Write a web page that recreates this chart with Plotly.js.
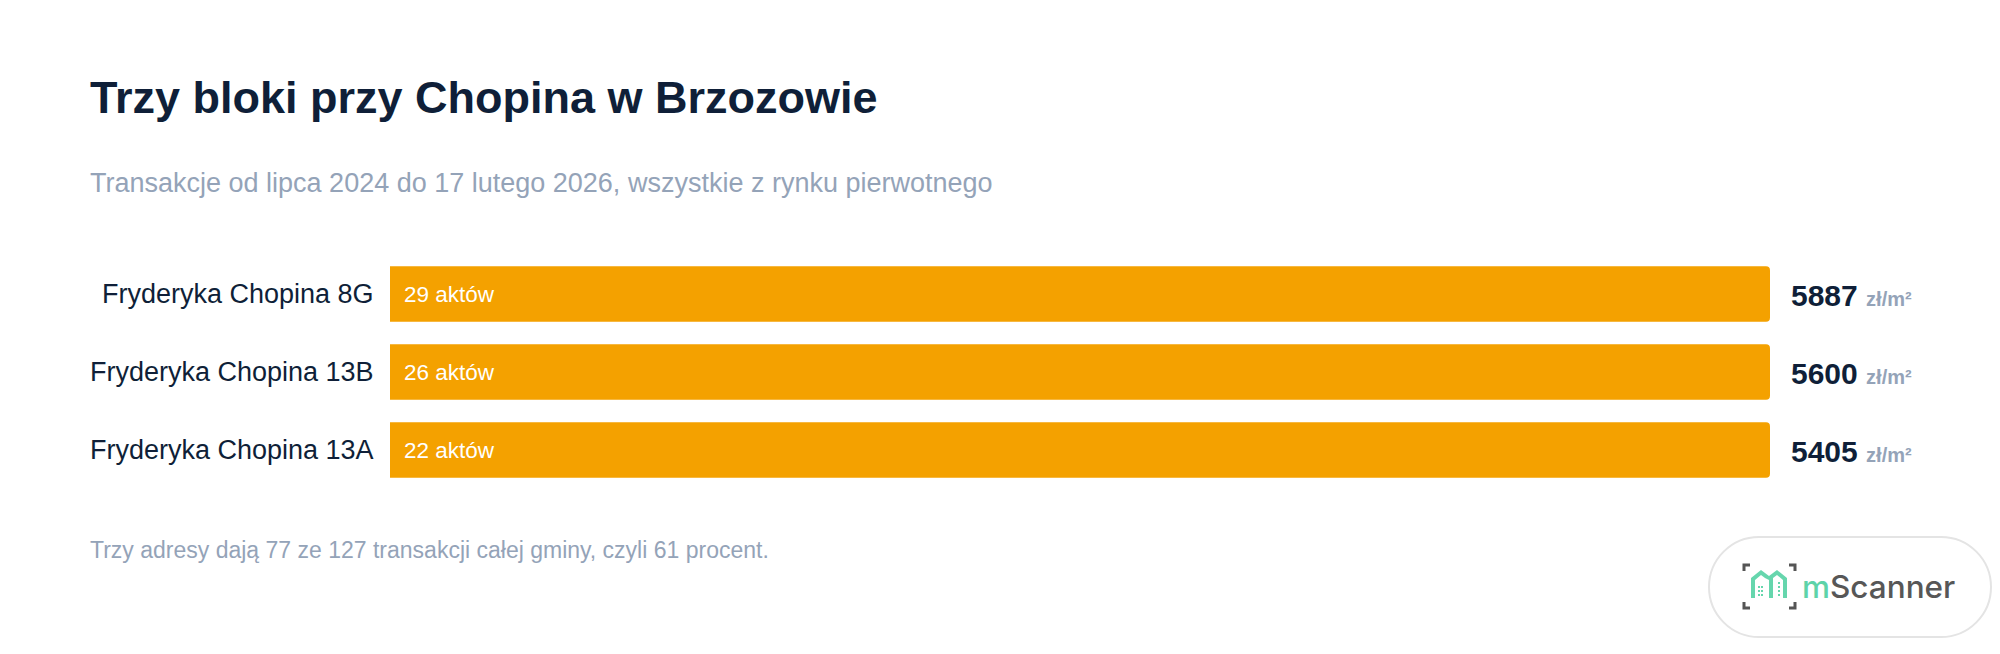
<!DOCTYPE html>
<html>
<head>
<meta charset="utf-8">
<script src="https://cdn.plot.ly/plotly-3.0.1.min.js"></script>
<style>
  html, body { margin: 0; padding: 0; background: #ffffff; }
  #chart { width: 2000px; height: 654px; }
</style>
</head>
<body>
<div id="chart"></div>
<script>
// ---- data ----
var addresses = ["Fryderyka Chopina 8G", "Fryderyka Chopina 13B", "Fryderyka Chopina 13A"];
var actCounts = [29, 26, 22];
var pricePerM2 = [5887, 5600, 5405];
// every bar in the reference is drawn at the same full length
var barLength = [1, 1, 1];
var actWord = "aktów";
var priceUnit = "zł/m²";

var titleText = "Trzy bloki przy Chopina w Brzozowie";
var subtitleText = "Transakcje od lipca 2024 do 17 lutego 2026, wszystkie z rynku pierwotnego";
var footnoteText = "Trzy adresy dają 77 ze 127 transakcji całej gminy, czyli 61 procent.";
var brandLead = "m";
var brandRest = "Scanner";

// ---- layout geometry ----
var W = 2000, H = 654;
var M = { l: 390, r: 230, t: 255, b: 165 };
var PW = W - M.l - M.r, PH = H - M.t - M.b;
function px(x) { return (x - M.l) / PW; }
function py(y) { return (H - M.b - y) / PH; }

var FONT = '"Liberation Sans", Arial, Helvetica, sans-serif';
var NAVY = '#0f1f38';
var SLATE = '#94a3b8';
var ORANGE = '#f4a100';

var trace = {
  type: 'bar',
  orientation: 'h',
  y: addresses,
  x: barLength,
  marker: { color: ORANGE, cornerradius: 4, line: { width: 0 } },
  hoverinfo: 'skip',
  showlegend: false
};

var annotations = [];
// title / subtitle / footnote
annotations.push({ xref: 'paper', yref: 'paper', x: px(88), y: py(97), xanchor: 'left', yanchor: 'middle',
  text: '<b>' + titleText + '</b>', showarrow: false, font: { family: FONT, size: 45, color: NAVY } });
annotations.push({ xref: 'paper', yref: 'paper', x: px(88), y: py(182.5), xanchor: 'left', yanchor: 'middle',
  text: subtitleText, showarrow: false, font: { family: FONT, size: 27, color: SLATE } });
annotations.push({ xref: 'paper', yref: 'paper', x: px(88), y: py(550.3), xanchor: 'left', yanchor: 'middle',
  text: footnoteText, showarrow: false, font: { family: FONT, size: 23, color: SLATE } });

// per-bar labels
for (var i = 0; i < addresses.length; i++) {
  annotations.push({ xref: 'x', yref: 'y', x: 0, y: addresses[i], xanchor: 'left', yanchor: 'middle',
    xshift: 12, text: actCounts[i] + ' ' + actWord, showarrow: false,
    font: { family: FONT, size: 22.5, color: '#ffffff' } });
  annotations.push({ xref: 'x', yref: 'y', x: barLength[i], y: addresses[i], xanchor: 'left', yanchor: 'middle',
    xshift: 19, yshift: -1,
    text: '<b>' + pricePerM2[i] + '</b> <span style="font-size:20px;color:' + SLATE + '"><b>' + priceUnit + '</b></span>',
    showarrow: false, font: { family: FONT, size: 30, color: NAVY } });
}

// brand text
annotations.push({ xref: 'paper', yref: 'paper', x: px(1800), y: py(586), xanchor: 'left', yanchor: 'middle',
  text: '<span style="color:#5ed3a9">' + brandLead + '</span>' + brandRest, showarrow: false,
  font: { family: 'Inter, "Liberation Sans", Arial, sans-serif', size: 31.5, weight: 500, color: '#575757' } });

// brand pill + icon as an svg picture
var svg = '<svg xmlns="http://www.w3.org/2000/svg" width="284" height="102" viewBox="0 0 284 102">' +
  '<rect x="1" y="1" width="282" height="100" rx="50" ry="50" fill="#ffffff" stroke="#e4e4e4" stroke-width="2"/>' +
  '<g fill="none" stroke="#555555" stroke-width="3">' +
  '<path d="M36,35 V29 H42"/><path d="M81,29 H87 V35"/>' +
  '<path d="M36,66 V72 H42"/><path d="M81,72 H87 V66"/>' +
  '</g>' +
  '<g fill="#66d6ad">' +
  '<path d="M43,62 V42 L53,34 L61,40 L69,34 L79,42 V62 H75 V44 L69,39 L65,42 V62 H61 V44 L57,42 L53,39 L47,44 V62 Z"/>' +
  '<rect x="50" y="50" width="2" height="2"/><rect x="53" y="50" width="2" height="2"/>' +
  '<rect x="50" y="54" width="2" height="2"/><rect x="53" y="54" width="2" height="2"/>' +
  '<rect x="50" y="58" width="2" height="2"/><rect x="53" y="58" width="2" height="2"/>' +
  '<rect x="70" y="46" width="2" height="2"/><rect x="70" y="50" width="2" height="2"/>' +
  '<rect x="70" y="54" width="2" height="2"/><rect x="70" y="58" width="2" height="2"/>' +
  '</g></svg>';

var layout = {
  width: W, height: H,
  margin: M,
  paper_bgcolor: '#ffffff', plot_bgcolor: '#ffffff',
  bargap: 0.286,
  showlegend: false,
  font: { family: FONT, color: NAVY },
  xaxis: { range: [0, 1], visible: false, fixedrange: true },
  yaxis: {
    type: 'category', categoryorder: 'array', categoryarray: addresses,
    autorange: 'reversed', showgrid: false, zeroline: false, showline: false,
    ticks: 'outside', ticklen: 10, tickcolor: 'rgba(0,0,0,0)',
    tickfont: { family: FONT, size: 27, color: NAVY }, fixedrange: true
  },
  annotations: annotations,
  images: [{
    source: 'data:image/svg+xml;charset=utf-8,' + encodeURIComponent(svg),
    xref: 'paper', yref: 'paper', x: px(1708), y: py(536), sizex: 284 / PW, sizey: 102 / PH,
    xanchor: 'left', yanchor: 'top', sizing: 'stretch', layer: 'above'
  }]
};

Plotly.newPlot('chart', [trace], layout, { displayModeBar: false, staticPlot: true });
</script>
</body>
</html>
